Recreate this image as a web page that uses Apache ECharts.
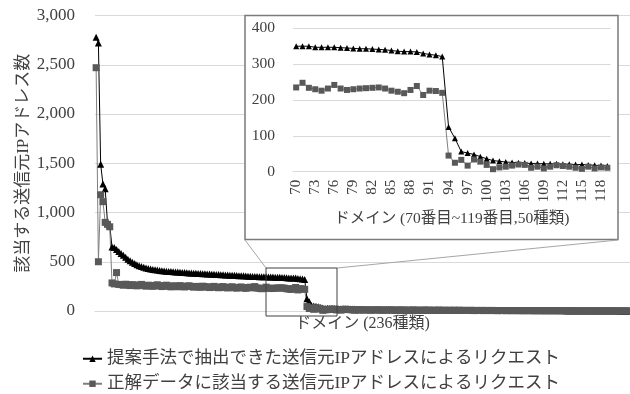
<!DOCTYPE html>
<html>
<head>
<meta charset="utf-8">
<script src="https://cdn.jsdelivr.net/npm/echarts@6/dist/echarts.min.js"></script>
<style>
html,body{margin:0;padding:0;background:#fff;}
#chart{width:630px;height:394px;}
</style>
</head>
<body>
<div id="chart"></div>
<script>
// ---- Data ----
const seriesNames = [
  '提案手法で抽出できた送信元IPアドレスによるリクエスト',
  '正解データに該当する送信元IPアドレスによるリクエスト'
];
// domains 1..236 (proposed method)
const proposedCounts = [
  2780,2720,1490,1290,1240,900,870,650,645,625,
  605,585,565,545,525,510,495,482,470,460,
  451,444,437,431,426,422,418,415,412,409,
  406,404,402,400,398,396,395,393,391,390,
  388,387,385,384,382,381,380,378,377,376,
  375,374,372,371,370,369,368,366,365,364,
  363,362,361,359,358,357,355,354,352,
  350,350,350,347,347,347,347,346,345,344,
  343,343,342,341,340,338,336,335,335,334,
  330,327,325,321,125,93,56,52,48,42,
  36,31,29,27,26,25,24,23,23,22,
  22,22,21,21,20,20,19,18,17,16,
  16,16,16,15,15,15,15,15,14,14,
  14,14,14,13,13,13,13,13,12,12,
  12,12,12,12,11,11,11,11,11,11,
  10,10,10,10,10,10,9,9,9,9,
  9,9,9,8,8,8,8,8,8,8,
  7,7,7,7,7,7,7,6,6,6,
  6,6,6,6,6,6,5,5,5,5,
  5,5,5,5,5,5,4,4,4,4,
  4,4,4,4,4,4,4,4,3,3,
  3,3,3,3,3,3,3,3,3,3,
  2,2,2,2,2,2,2,2,2,2,
  2,2,1,1,1,1,1
];
// domains 1..236 (ground truth)
const correctCounts = [
  2470,500,1180,1110,900,880,855,285,275,390,
  270,268,262,272,265,258,268,260,255,265,
  270,258,252,262,256,250,260,266,254,248,
  258,262,250,245,256,252,246,258,250,244,
  252,256,248,242,250,246,240,252,248,242,
  238,246,250,240,236,244,248,238,234,242,
  246,236,232,240,244,234,230,238,242,
  235,248,234,230,226,232,242,232,228,230,
  232,233,234,235,232,226,223,219,228,239,
  214,226,225,220,45,25,33,17,34,28,
  19,7,12,14,17,20,19,11,14,9,
  14,18,16,14,11,8,14,9,12,11,
  10,12,8,11,9,13,10,7,11,9,
  8,12,10,7,9,11,8,10,6,9,
  8,10,7,9,6,8,10,7,9,6,
  8,7,9,6,8,7,5,8,6,7,
  6,8,5,7,6,5,7,6,4,6,
  5,6,4,6,5,4,6,5,3,5,
  4,5,3,5,4,3,5,4,3,4,
  3,4,3,4,3,2,4,3,2,3,
  3,2,3,2,3,2,2,3,2,2,
  2,3,2,2,1,2,2,1,2,2,
  1,2,1,2,1,1,2,1,1,2,
  1,1,1,1,1,1,1
];
const mainYTicks = {min: 0, max: 3000, interval: 500};
const insetYTicks = {min: 0, max: 400, interval: 100};
const insetFirstDomain = 70;   // inset shows domains 70..119
const insetLastDomain = 119;
const mainAxisName = 'ドメイン (236種類)';
const insetAxisName = 'ドメイン (70番目~119番目,50種類)';
const yAxisName = '該当する送信元IPアドレス数';

// ---- Build ----
const domains = proposedCounts.map((_, i) => String(i + 1));
const insetDomains = domains.slice(insetFirstDomain - 1, insetLastDomain);
const insetProposed = proposedCounts.slice(insetFirstDomain - 1, insetLastDomain);
const insetCorrect = correctCounts.slice(insetFirstDomain - 1, insetLastDomain);

const FONT = "'Liberation Serif','Noto Sans CJK JP',serif";
const TXT = '#404040';
const GRID_C = '#d9d9d9';
const numFmt = v => v.toLocaleString('en-US');

const legendCommon = {
  orient: 'horizontal', left: 77,
  itemWidth: 19, itemHeight: 8,
  textStyle: {fontSize: 17.5, color: TXT, fontFamily: FONT}
};

const chart = echarts.init(document.getElementById('chart'), null, {renderer: 'canvas'});
chart.setOption({
  animation: false,
  backgroundColor: '#fff',
  textStyle: {fontFamily: FONT},
  legend: [
    Object.assign({}, legendCommon, {top: 345, data: [seriesNames[0]]}),
    Object.assign({}, legendCommon, {top: 370, data: [seriesNames[1]]})
  ],
  grid: [
    {left: 95, right: 0, top: 15.5, bottom: 83},
    {left: 293, right: 19.5, top: 28.3, bottom: 222.3}
  ],
  xAxis: [
    {
      type: 'category', gridIndex: 0, data: domains, boundaryGap: true,
      axisLabel: {show: false}, axisTick: {show: false},
      axisLine: {show: true, lineStyle: {color: GRID_C}},
      name: mainAxisName, nameLocation: 'middle', nameGap: 5, nameMoveOverlap: false,
      nameTextStyle: {fontSize: 16, color: TXT, fontFamily: FONT}
    },
    {
      type: 'category', gridIndex: 1, data: insetDomains, boundaryGap: true, z: 3,
      axisLabel: {interval: 2, rotate: 90, fontSize: 15, color: TXT, margin: 8, fontFamily: FONT},
      axisTick: {show: false},
      axisLine: {show: true, lineStyle: {color: GRID_C}},
      name: insetAxisName, nameLocation: 'middle', nameGap: 39, nameMoveOverlap: false,
      nameTextStyle: {fontSize: 15.5, color: TXT, fontFamily: FONT}
    }
  ],
  yAxis: [
    {
      type: 'value', gridIndex: 0, min: mainYTicks.min, max: mainYTicks.max, interval: mainYTicks.interval,
      axisLabel: {fontSize: 17, color: TXT, margin: 20, formatter: numFmt, fontFamily: FONT},
      axisLine: {show: false}, axisTick: {show: false},
      splitLine: {lineStyle: {color: GRID_C, width: 1}},
      name: yAxisName, nameLocation: 'middle', nameRotate: 90, nameGap: 63, nameMoveOverlap: false,
      nameTextStyle: {fontSize: 17, color: TXT, fontFamily: FONT}
    },
    {
      type: 'value', gridIndex: 1, min: insetYTicks.min, max: insetYTicks.max, interval: insetYTicks.interval, z: 3,
      axisLabel: {fontSize: 15.5, color: TXT, margin: 18, fontFamily: FONT},
      axisLine: {show: false}, axisTick: {show: false},
      splitLine: {lineStyle: {color: GRID_C, width: 1}}
    }
  ],
  graphic: {
    elements: [
      {type: 'rect', z: 1, silent: true,
       shape: {x: 245, y: 15.5, width: 373, height: 224},
       style: {fill: '#fff', stroke: '#7a7a7a', lineWidth: 1.5}},
      {type: 'line', z: 1, silent: true,
       shape: {x1: 245, y1: 240, x2: 266, y2: 268},
       style: {stroke: '#a6a6a6', lineWidth: 1}},
      {type: 'line', z: 1, silent: true,
       shape: {x1: 618, y1: 240, x2: 337, y2: 268},
       style: {stroke: '#a6a6a6', lineWidth: 1}},
      {type: 'rect', z: 10, silent: true,
       shape: {x: 266, y: 268, width: 71, height: 48},
       style: {fill: 'none', stroke: '#404040', lineWidth: 1}}
    ]
  },
  series: [
    {
      name: seriesNames[0], type: 'line', xAxisIndex: 0, yAxisIndex: 0,
      data: proposedCounts, symbol: 'triangle', symbolSize: 7, showAllSymbol: true,
      itemStyle: {color: '#000'}, lineStyle: {color: '#000', width: 1}, z: 2
    },
    {
      name: seriesNames[1], type: 'line', xAxisIndex: 0, yAxisIndex: 0,
      data: correctCounts, symbol: 'rect', symbolSize: 7, showAllSymbol: true,
      itemStyle: {color: '#595959'}, lineStyle: {color: '#7f7f7f', width: 1}, z: 2
    },
    {
      name: seriesNames[0], type: 'line', xAxisIndex: 1, yAxisIndex: 1,
      data: insetProposed, symbol: 'triangle', symbolSize: 6, showAllSymbol: true,
      itemStyle: {color: '#000'}, lineStyle: {color: '#000', width: 1}, z: 4
    },
    {
      name: seriesNames[1], type: 'line', xAxisIndex: 1, yAxisIndex: 1,
      data: insetCorrect, symbol: 'rect', symbolSize: 6, showAllSymbol: true,
      itemStyle: {color: '#595959'}, lineStyle: {color: '#7f7f7f', width: 1}, z: 4
    }
  ]
});
</script>
</body>
</html>
